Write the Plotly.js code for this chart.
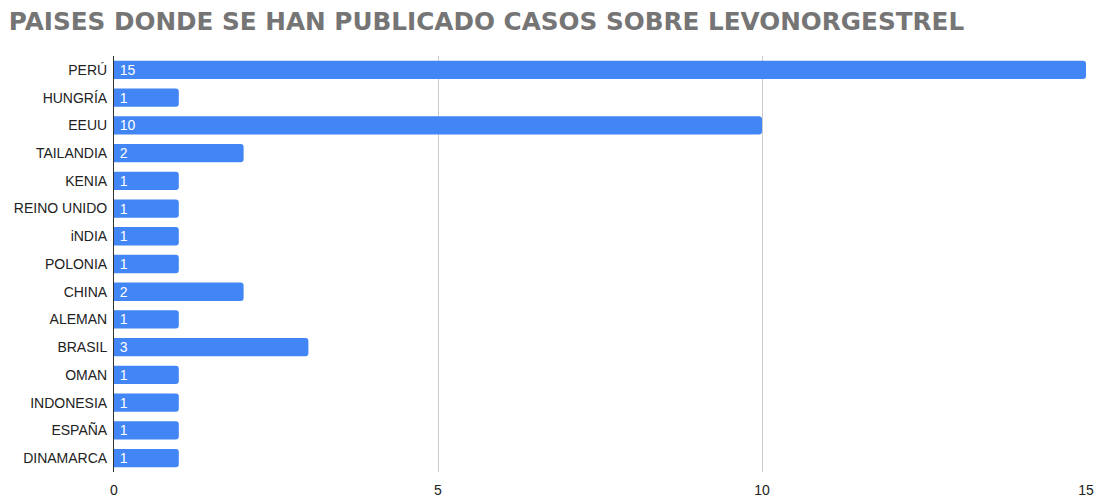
<!DOCTYPE html>
<html>
<head>
<meta charset="utf-8">
<script src="https://cdn.plot.ly/plotly-3.0.1.min.js"></script>
<style>html,body{margin:0;padding:0;background:#fff;}#chart{width:1107px;height:498px;}</style>
</head>
<body>
<div id="chart"></div>
<script>
const countries = ["PERÚ","HUNGRÍA","EEUU","TAILANDIA","KENIA","REINO UNIDO","iNDIA","POLONIA","CHINA","ALEMAN","BRASIL","OMAN","INDONESIA","ESPAÑA","DINAMARCA"];
const cases = [15,1,10,2,1,1,1,1,2,1,3,1,1,1,1];
const xTicks = [0,5,10,15];

const trace = {
  type: 'bar',
  orientation: 'h',
  y: countries,
  x: cases,
  texttemplate: '\u2009%{x}',
  textposition: 'inside',
  insidetextanchor: 'start',
  textangle: 0,
  constraintext: 'none',
  textfont: {family: 'Liberation Sans, Arial, sans-serif', size: 14, color: '#ffffff'},
  marker: {color: '#4285f4', cornerradius: 3},
  width: 0.66,
  hoverinfo: 'none'
};

const layout = {
  width: 1107, height: 498,
  margin: {l: 114, r: 21, t: 56, b: 26},
  paper_bgcolor: '#ffffff', plot_bgcolor: '#ffffff',
  title: {text: '<b>PAISES DONDE SE HAN PUBLICADO CASOS SOBRE LEVONORGESTREL</b>',
    font: {family: 'DejaVu Sans, Arial, sans-serif', size: 24.7, color: '#757575'},
    x: 0.008, xanchor: 'left', y: 0.958, yanchor: 'middle'},
  xaxis: {range: [0, 15], tickvals: xTicks, ticktext: xTicks.map(String),
    showgrid: true, gridcolor: '#cccccc', gridwidth: 1, zeroline: false,
    showline: false, ticks: '', ticklen: 0, ticklabelstandoff: 8,
    tickfont: {family: 'Liberation Sans, Arial, sans-serif', size: 14, color: '#222222'}},
  yaxis: {autorange: 'reversed', type: 'category', showgrid: false,
    showline: true, linecolor: '#333333', linewidth: 1, ticks: '', ticklabelstandoff: 3,
    tickfont: {family: 'Liberation Sans, Arial, sans-serif', size: 14, color: '#222222'}},
  showlegend: false,
  font: {family: 'Liberation Sans, Arial, sans-serif'}
};

Plotly.newPlot('chart', [trace], layout, {displayModeBar: false, staticPlot: true});
</script>
</body>
</html>
